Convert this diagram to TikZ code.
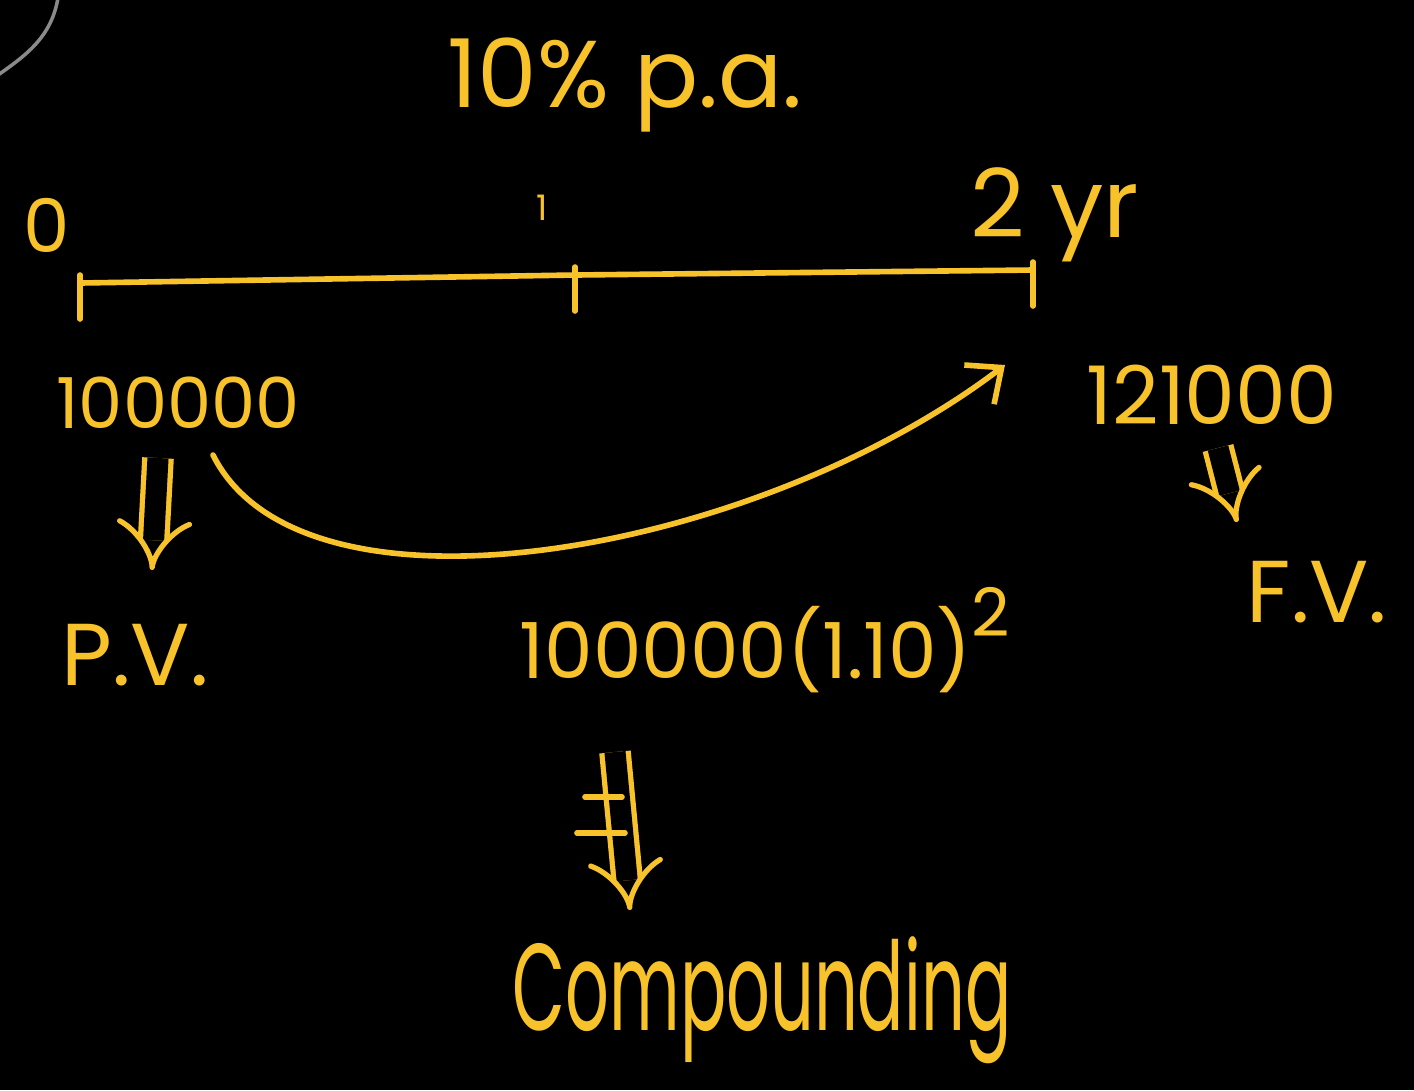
\documentclass[tikz,border=0pt]{standalone}
\usepackage{fontspec}
\setmainfont{Poppins}
\usetikzlibrary{arrows.meta,calc}
\definecolor{ink}{HTML}{F7C22A}
\definecolor{board}{HTML}{000000}
\definecolor{smudge}{HTML}{8A8A8A}

\begin{document}
\begin{tikzpicture}[
  hand/.style={text=ink, inner sep=0pt, font=\fontsize{20}{24}\selectfont},
  stroke/.style={draw=ink, line width=1.6pt, line cap=round, line join=round},
  flow/.style={stroke, -{Straight Barb[length=8pt, width=14pt]}},
  implies/.style={draw=ink, line width=1.5pt, double=board, double distance=6pt, -{Implies}}
]
  \useasboundingbox (0,0) rectangle (14.14,-10.90);
  \fill[board] (0,0) rectangle (14.14,-10.90);
  \draw[smudge, line width=1pt] (0.58,0.02) to[out=-100, in=35] (-0.02,-0.75);

  % time line
  \coordinate (tick0) at (0.80,-2.83);
  \coordinate (tick1) at (5.75,-2.75);
  \coordinate (tick2) at (10.33,-2.70);
  \draw[stroke] (tick0) -- (tick1) -- (tick2);
  \foreach \t in {tick0, tick1, tick2} {
    \draw[stroke] ([yshift=0.08cm]\t) -- ([yshift=-0.36cm]\t);
  }

  \node[hand, font=\fontsize{21}{25}\selectfont] (zero) at (0.47,-2.25) {0};
  \node[hand, font=\fontsize{10}{12}\selectfont] (one) at (5.42,-2.08) {1};
  \node[hand, font=\fontsize{27}{32}\selectfont] (two) at (10.55,-2.15) {2 yr};
  \node[hand, font=\fontsize{27}{32}\selectfont] (rate) at (6.25,-0.85) {10\% p.a.};

  \node[hand] (present) at (1.78,-4.03) {100000};
  \node[hand, font=\fontsize{23}{27}\selectfont] (future) at (12.12,-3.95) {121000};
  \node[hand, font=\fontsize{25}{30}\selectfont] (pv) at (1.35,-6.55) {P.V.};
  \node[hand, font=\fontsize{25}{30}\selectfont] (fv) at (13.17,-5.92) {F.V.};
  \node[hand, font=\fontsize{22}{26}\selectfont] (formula) at (7.65,-6.40) {100000(1.10)\raisebox{0.55em}{\fontsize{19}{22}\selectfont 2}};
  \node[hand, font=\fontsize{26}{31}\selectfont, xscale=0.75, yscale=1.35, transform shape] (comp) at (7.62,-10.00) {Compounding};

  % growth of the sum
  \draw[flow] ([shift={(0.35,-0.52)}]present.center) .. controls +(0.9,-1.8) and +(-2.5,-1.9) .. ([shift={(-2.07,0.30)}]future.center);

  \draw[implies] ([shift={(-0.20,-0.55)}]present.center) -- ([shift={(0.17,0.85)}]pv.center);
  \draw[implies] ([shift={(0.06,-0.53)}]future.center) -- ([shift={(-0.80,0.70)}]fv.center);
  \draw[implies] ([shift={(-1.50,-1.12)}]formula.center) -- ([shift={(-1.32,0.90)}]comp.center);
  \draw[stroke] ([shift={(-1.80,-1.57)}]formula.center) -- ++(0.37,0);
  \draw[stroke] ([shift={(-1.88,-1.93)}]formula.center) -- ++(0.48,0);
\end{tikzpicture}
\end{document}
